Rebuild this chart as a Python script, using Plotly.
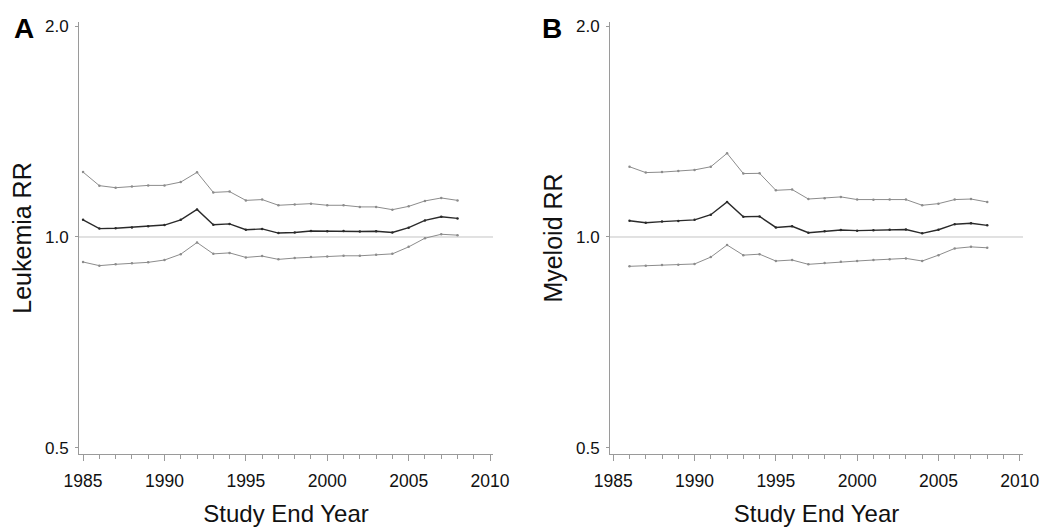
import plotly.graph_objects as go

years_a = list(range(1985, 2009))
leuk_upper = [1.238, 1.184, 1.176, 1.181, 1.185, 1.185, 1.198, 1.237, 1.158, 1.161, 1.128, 1.131,
              1.110, 1.113, 1.116, 1.110, 1.110, 1.104, 1.104, 1.094, 1.106, 1.126, 1.137, 1.128]
leuk_rr = [1.058, 1.028, 1.029, 1.032, 1.036, 1.040, 1.058, 1.095, 1.041, 1.044, 1.024, 1.027,
           1.013, 1.015, 1.020, 1.019, 1.020, 1.018, 1.019, 1.015, 1.031, 1.056, 1.069, 1.063]
leuk_lower = [0.921, 0.910, 0.914, 0.917, 0.920, 0.927, 0.945, 0.982, 0.946, 0.949, 0.935, 0.939,
              0.929, 0.933, 0.936, 0.938, 0.940, 0.940, 0.943, 0.946, 0.968, 0.996, 1.009, 1.006]

years_b = list(range(1986, 2009))
mye_upper = [1.260, 1.236, 1.238, 1.242, 1.247, 1.260, 1.317, 1.232, 1.233, 1.166, 1.169, 1.133,
             1.136, 1.141, 1.131, 1.130, 1.131, 1.131, 1.110, 1.116, 1.131, 1.133, 1.122]
mye_rr = [1.055, 1.048, 1.052, 1.054, 1.058, 1.076, 1.122, 1.069, 1.070, 1.032, 1.036, 1.014,
          1.019, 1.023, 1.021, 1.022, 1.024, 1.025, 1.012, 1.024, 1.043, 1.046, 1.039]
mye_lower = [0.908, 0.910, 0.912, 0.913, 0.915, 0.936, 0.974, 0.942, 0.945, 0.924, 0.927, 0.914,
             0.918, 0.922, 0.924, 0.927, 0.929, 0.932, 0.924, 0.942, 0.963, 0.968, 0.965]

y_ticks = [0.5, 1.0, 2.0]
y_ticklabels = ["0.5", "1.0", "2.0"]
x_ticks = [1985, 1990, 1995, 2000, 2005, 2010]
panel_letters = ["A", "B"]
y_titles = ["Leukemia RR", "Myeloid RR"]
x_title = "Study End Year"

FONT = "Arial, 'Liberation Sans', sans-serif"
CI_COLOR = "#8c8c8c"
RR_COLOR = "#2a2a2a"
AX_COLOR = "#9a9a9a"

fig = go.Figure()

panels = [
    ("x", "y", years_a, leuk_upper, leuk_rr, leuk_lower),
    ("x2", "y2", years_b, mye_upper, mye_rr, mye_lower),
]
for xa, ya, yrs, up, rr, lo in panels:
    for vals, col, w in [(up, CI_COLOR, 1), (lo, CI_COLOR, 1), (rr, RR_COLOR, 1.4)]:
        fig.add_trace(go.Scatter(x=yrs, y=vals, xaxis=xa, yaxis=ya, mode="lines+markers",
                                 line=dict(color=col, width=w),
                                 marker=dict(color=col, size=2.5),
                                 showlegend=False, hoverinfo="skip"))

x_domains = [[79 / 1040, 493 / 1040], [610 / 1040, 1023 / 1040]]
y_domain = [1 - 454 / 527, 1 - 22 / 527]
x_ranges = [[1984.75, 2010.18], [1984.8, 2010.2]]
y_range = [-0.3101, 0.3072]

for i in range(2):
    sfx = "" if i == 0 else str(i + 1)
    fig.update_layout(**{
        "xaxis" + sfx: dict(
            domain=x_domains[i], range=x_ranges[i], anchor="y" + sfx, automargin=False,
            tickmode="array", tickvals=x_ticks, ticks="outside", ticklen=6,
            tickcolor=AX_COLOR, showline=True, linecolor=AX_COLOR, linewidth=1,
            showgrid=False, zeroline=False, ticklabelstandoff=5,
            tickfont=dict(family=FONT, size=17.5, color="#111"),
            minor=dict(dtick=1, tick0=1985, ticks="outside", ticklen=3.5, tickcolor=AX_COLOR, showgrid=False),
            title=dict(text=x_title, font=dict(family=FONT, size=24, color="#111"), standoff=15),
        ),
        "yaxis" + sfx: dict(
            domain=y_domain, type="log", range=y_range, anchor="x" + sfx, automargin=False,
            tickmode="array", tickvals=y_ticks, ticktext=y_ticklabels,
            ticks="outside", ticklen=3, tickcolor=AX_COLOR,
            showline=True, linecolor=AX_COLOR, linewidth=1,
            showgrid=False, zeroline=False, ticklabelstandoff=3,
            tickfont=dict(family=FONT, size=17, color="#111"),
            title=dict(text=y_titles[i], font=dict(family=FONT, size=25, color="#111"), standoff=6),
        ),
    })
    fig.add_shape(type="line", xref=("x" + sfx) + " domain", yref="y" + sfx,
                  x0=0, x1=1, y0=1.0, y1=1.0, line=dict(color="#c4c4c4", width=1), layer="below")

for letter, px in zip(panel_letters, [23.5, 552]):
    fig.add_annotation(text="<b>" + letter + "</b>", x=px / 1040, y=1 - 28.5 / 527,
                       xref="paper", yref="paper", xanchor="center", yanchor="middle",
                       showarrow=False, font=dict(family=FONT, size=28, color="#000"))

fig.update_layout(
    width=1040, height=527,
    margin=dict(l=0, r=0, t=0, b=0, autoexpand=False),
    paper_bgcolor="white", plot_bgcolor="white",
)

fig.write_html("out.html", config={"displayModeBar": False},
               post_script="document.body.style.margin='0';document.body.style.overflow='hidden';")
